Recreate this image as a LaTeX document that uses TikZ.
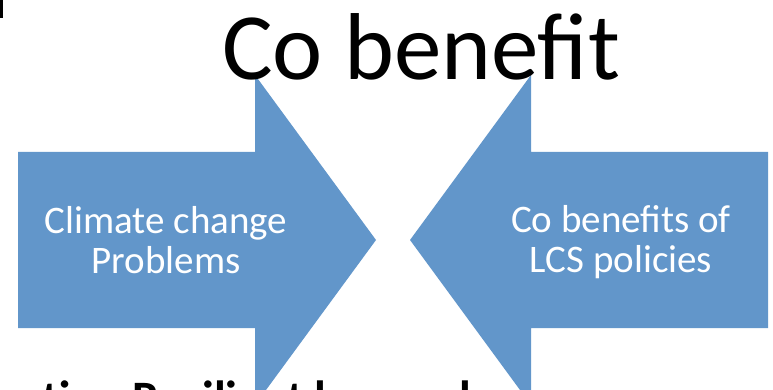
\documentclass[tikz,border=0pt]{standalone}
\usepackage{fontspec}
\setmainfont{Carlito}
\usepackage{tikz}
\usetikzlibrary{positioning}
\definecolor{arrowblue}{RGB}{98,150,202}
\tikzstyle{bigarrow} = [fill=arrowblue, draw=none]
\tikzstyle{inlabel} = [text=white, align=center, inner sep=0pt, font=\fontsize{39}{40}\selectfont]
\tikzstyle{heading} = [text=black, inner sep=0pt, font=\fontsize{95}{100}\selectfont]
\tikzstyle{cutlabel} = [text=black, inner sep=0pt, font=\bfseries\fontsize{48}{50}\selectfont]

\begin{document}
\begin{tikzpicture}[x=1pt, y=-1pt]
		\useasboundingbox (0,0) rectangle (773,390);
		\clip (0,0) rectangle (773,390);
		\fill (0,0) rectangle (3,18);
		\node (under) [cutlabel, anchor=base west] at (42,414) {tion Resilient low carbon};
		\fill [bigarrow] (18,152) -- (255,152) -- (255,75) -- (376,240) -- (255,405) -- (255,328) -- (18,328) -- cycle;
		\fill [bigarrow] (768,152) -- (531,152) -- (531,75) -- (410,240) -- (531,405) -- (531,328) -- (768,328) -- cycle;
		\node (climate) [inlabel, anchor=base] at (166,273) {Climate change\\Problems};
		\node (lcs) [inlabel, anchor=base] at (621,272) {Co benefits of\\LCS policies};
		\node (title) [heading, anchor=base] at (421,80) {Co benefit};
\end{tikzpicture}
\end{document}
